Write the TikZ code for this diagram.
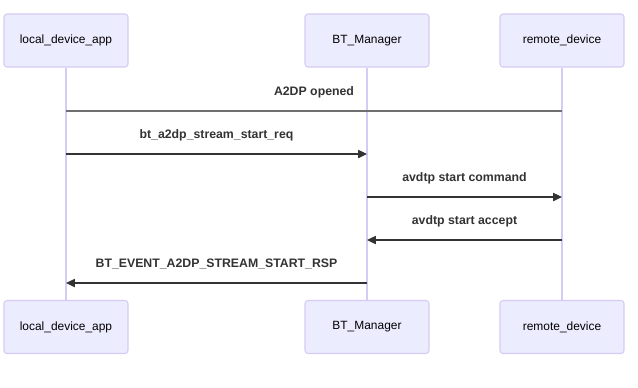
\documentclass[tikz,border=0pt]{standalone}
\usepackage{fontspec}
\setsansfont{Liberation Sans}
\usetikzlibrary{arrows.meta, positioning}
\definecolor{Ink}{HTML}{333333}
\definecolor{Plain}{HTML}{6F6F6F}
\definecolor{ActorFill}{HTML}{ECECFF}
\definecolor{ActorLine}{HTML}{D5CBF4}

\begin{document}
\begin{tikzpicture}[
  x=0.02cm, y=-0.02cm,
  font=\sffamily,
  actor/.style={rounded corners=1.7pt, draw=ActorLine, line width=0.6pt, fill=ActorFill, align=center, minimum width=2.48cm, minimum height=1.06cm, inner sep=0pt, font=\sffamily\fontsize{6.8}{8}\selectfont, text=black},
  life/.style={draw=ActorLine, line width=0.6pt},
  msg/.style={-{Triangle[length=5pt, width=4.6pt]}, line width=0.8pt, draw=Ink},
  plain/.style={line width=1pt, draw=Plain},
  lbl/.style={midway, yshift=0.38cm, font=\sffamily\bfseries\fontsize{7}{8}\selectfont, text=Ink}
]
\useasboundingbox (0,0) rectangle (638,387);

% participants, top and bottom
\node[actor] (app top) at (66,40.5) {local\_device\_app};
\node[actor] (mgr top) at (367,40.5) {BT\_Manager};
\node[actor] (dev top) at (562,40.5) {remote\_device};
\node[actor] (app bot) at (66,327) {local\_device\_app};
\node[actor] (mgr bot) at (367,327) {BT\_Manager};
\node[actor] (dev bot) at (562,327) {remote\_device};

\draw[life] (app top) -- (app bot);
\draw[life] (mgr top) -- (mgr bot);
\draw[life] (dev top) -- (dev bot);

% message rows on each lifeline
\foreach \y [count=\i] in {111,154,197,240,283} {
  \coordinate (app\i) at (66,\y);
  \coordinate (mgr\i) at (367,\y);
  \coordinate (dev\i) at (562,\y);
}

\draw[plain] (dev1) -- node[lbl] {A2DP opened} (app1);
\draw[msg] (app2) -- node[lbl] {bt\_a2dp\_stream\_start\_req} (mgr2);
\draw[msg] (mgr3) -- node[lbl] {avdtp start command} (dev3);
\draw[msg] (dev4) -- node[lbl] {avdtp start accept} (mgr4);
\draw[msg] (mgr5) -- node[lbl] {BT\_EVENT\_A2DP\_STREAM\_START\_RSP} (app5);
\end{tikzpicture}
\end{document}
